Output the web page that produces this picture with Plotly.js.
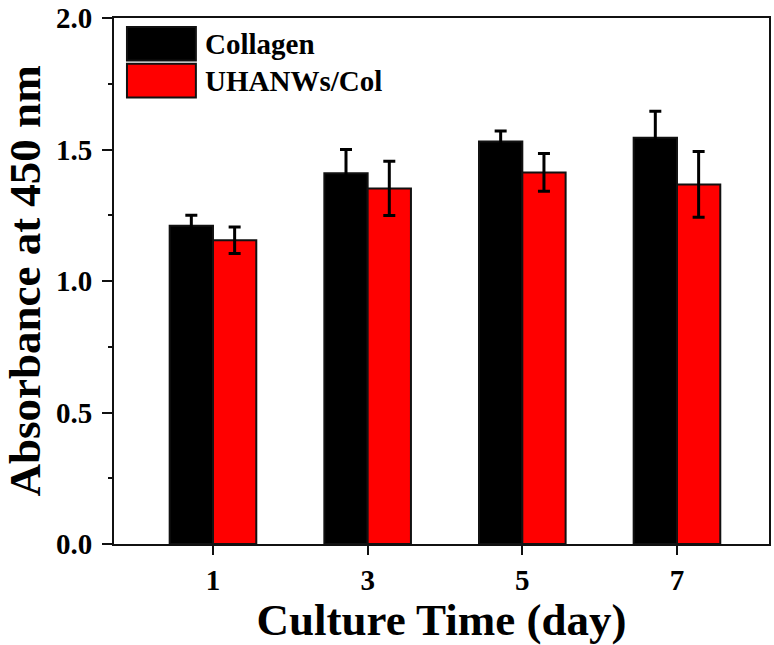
<!DOCTYPE html>
<html>
<head>
<meta charset="utf-8">
<script src="https://cdn.plot.ly/plotly-3.0.1.min.js"></script>
<style>html,body{margin:0;padding:0;background:#fff;}#chart{width:774px;height:645px;}</style>
</head>
<body>
<div id="chart"></div>
<script>
const days = [1, 3, 5, 7];
const tickLabels = ['1', '3', '5', '7'];
const seriesNames = ['Collagen', 'UHANWs/Col'];
const collagen = [1.21, 1.41, 1.53, 1.545];
const collagenErr = [0.04, 0.09, 0.04, 0.10];
const uhanws = [1.155, 1.352, 1.413, 1.367];
const uhanwsErr = [0.05, 0.103, 0.072, 0.125];
const colors = ['#000000', '#ff0000'];

const FONT = 'Liberation Serif, Times New Roman, serif';

function barTrace(name, y, err, color) {
  return {
    type: 'bar', name: name, x: days, y: y,
    marker: {color: color, line: {color: '#111', width: 2}},
    error_y: {type: 'data', array: err, visible: true, color: '#000', thickness: 3, width: 6},
    showlegend: false
  };
}

const data = [
  barTrace(seriesNames[0], collagen, collagenErr, colors[0]),
  barTrace(seriesNames[1], uhanws, uhanwsErr, colors[1])
];

const legendShapes = [];
const legendAnn = [];
const legendRows = [[0.983, 0.919], [0.913, 0.849]];
seriesNames.forEach((n, i) => {
  legendShapes.push({type: 'rect', xref: 'paper', yref: 'paper', x0: 0.0198, x1: 0.125,
    y0: legendRows[i][1], y1: legendRows[i][0], fillcolor: colors[i], line: {color: '#111', width: 2}});
  legendAnn.push({xref: 'paper', yref: 'paper', x: 0.136, y: (legendRows[i][0] + legendRows[i][1]) / 2,
    xanchor: 'left', yanchor: 'middle', showarrow: false, text: n,
    font: {family: FONT, size: 29, color: '#000', weight: 'bold'}});
});

const layout = {
  width: 774, height: 645,
  margin: {l: 114, r: 5, t: 18, b: 101},
  paper_bgcolor: '#fff', plot_bgcolor: '#fff',
  barmode: 'group', bargap: 0.44, bargroupgap: 0,
  font: {family: FONT, color: '#000', weight: 'bold'},
  xaxis: {
    range: [-0.28, 8.19], tickvals: days, ticktext: tickLabels,
    showgrid: false, zeroline: false,
    showline: true, mirror: true, linecolor: '#111', linewidth: 2,
    ticks: 'outside', ticklen: 9, tickwidth: 2, tickcolor: '#111',
    tickfont: {family: FONT, size: 29, weight: 'bold'},
    title: {text: 'Culture Time (day)', font: {family: FONT, size: 45, weight: 'bold'}, standoff: 4}
  },
  yaxis: {
    range: [0, 2.0], tickmode: 'linear', tick0: 0, dtick: 0.5, tickformat: '.1f',
    showgrid: false, zeroline: false,
    showline: true, mirror: true, linecolor: '#111', linewidth: 2,
    ticks: 'outside', ticklen: 10, tickwidth: 2, tickcolor: '#111',
    ticklabelstandoff: 4,
    minor: {ticks: 'outside', ticklen: 4, tickwidth: 2, tickcolor: '#111', dtick: 0.25, showgrid: false},
    tickfont: {family: FONT, size: 29, weight: 'bold'},
    title: {text: 'Absorbance at 450 nm', font: {family: FONT, size: 45, weight: 'bold'}, standoff: 8}
  },
  shapes: legendShapes,
  annotations: legendAnn
};

Plotly.newPlot('chart', data, layout, {displayModeBar: false, staticPlot: true});
</script>
</body>
</html>
